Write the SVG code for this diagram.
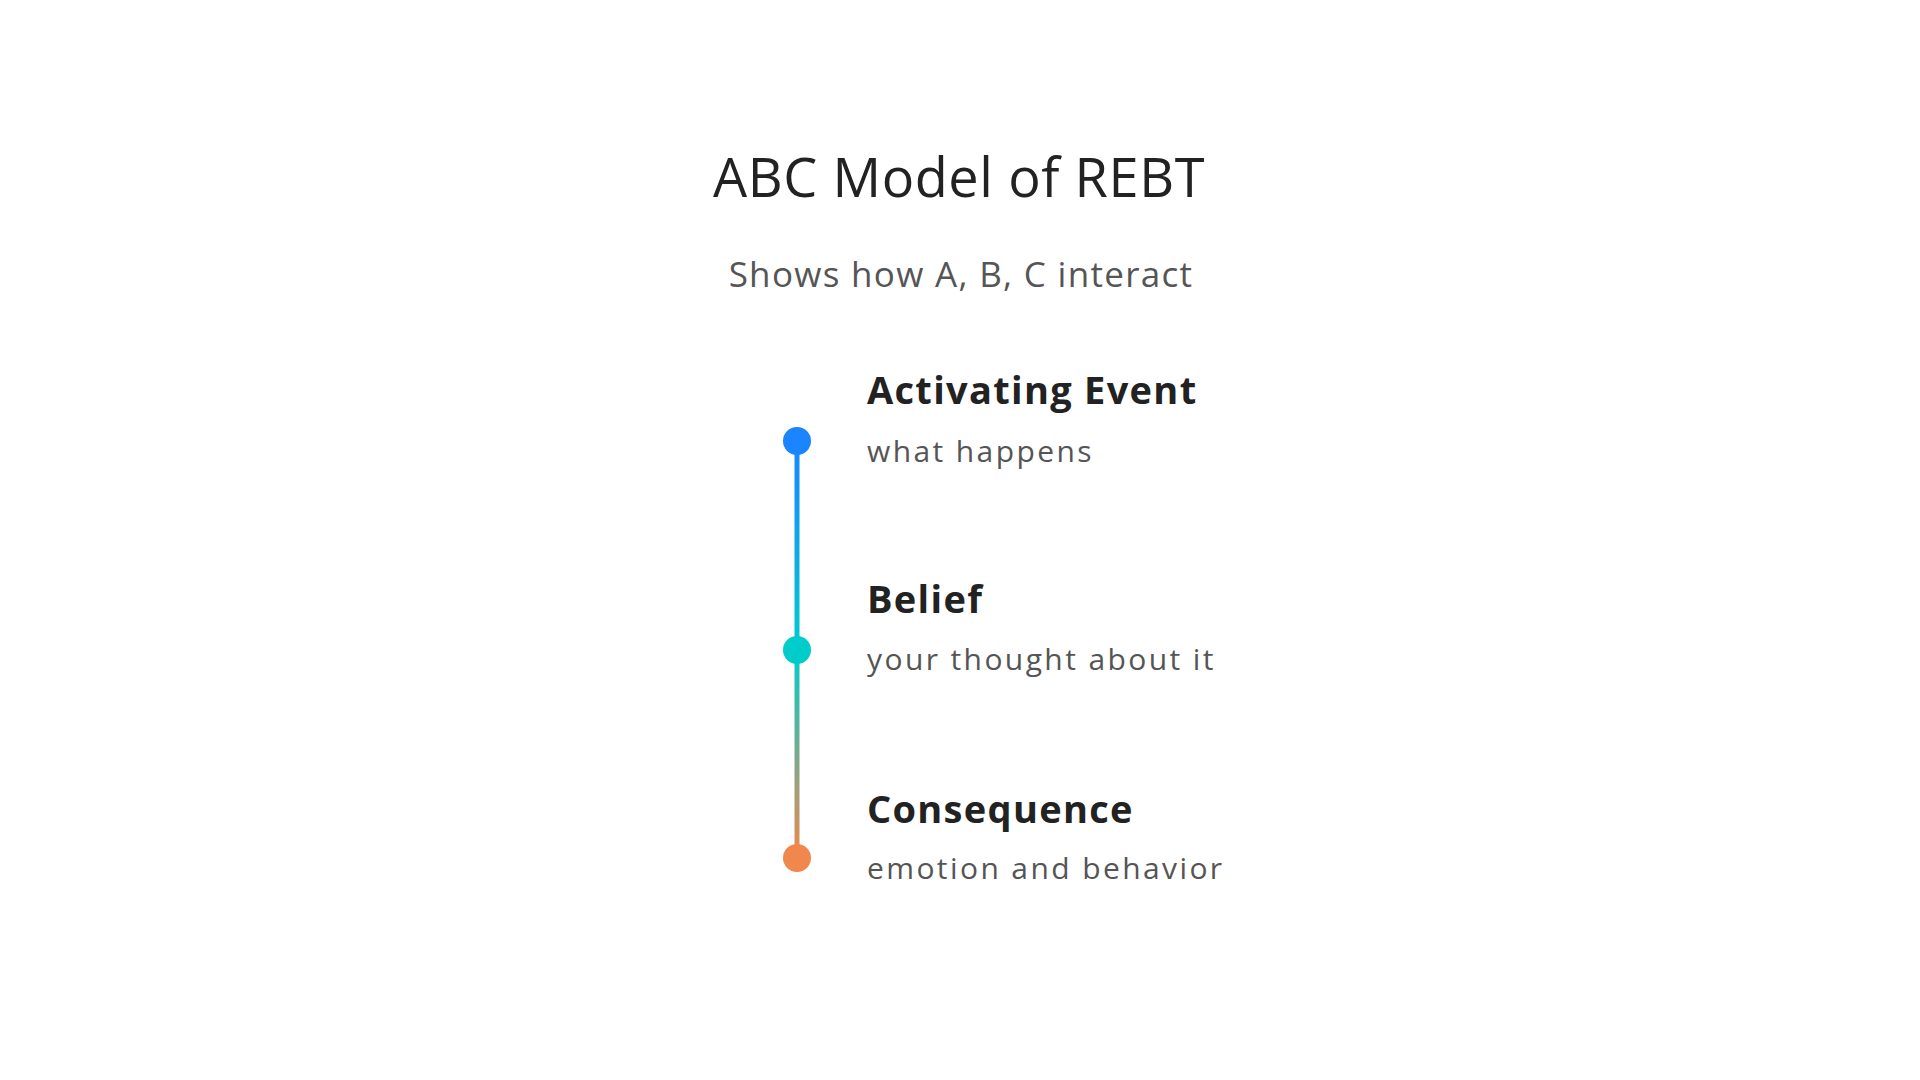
<svg xmlns="http://www.w3.org/2000/svg" width="1920" height="1080" viewBox="0 0 1920 1080">
  <defs>
    <linearGradient id="lineGrad" gradientUnits="userSpaceOnUse" x1="0" y1="441" x2="0" y2="858">
      <stop offset="0" stop-color="#1A85FF"/>
      <stop offset="0.5" stop-color="#00CCCC"/>
      <stop offset="1" stop-color="#F0884D"/>
    </linearGradient>
    <style>
      .title { font-family: "Open Sans", "Noto Sans", sans-serif; font-size: 54px; fill: #222222; letter-spacing: 0.6px; }
      .subtitle { font-family: "Open Sans", "Noto Sans", sans-serif; font-size: 35px; fill: #555555; letter-spacing: 1.3px; }
      .head { font-family: "Open Sans", "Noto Sans", sans-serif; font-size: 38px; font-weight: bold; fill: #222222; letter-spacing: 1.3px; }
      .desc { font-family: "Open Sans", "Noto Sans", sans-serif; font-size: 30px; fill: #555555; letter-spacing: 2.4px; }
    </style>
  </defs>
  <rect width="1920" height="1080" fill="#FFFFFF"/>
  <text class="title" x="959" y="197" text-anchor="middle">ABC Model of REBT</text>
  <text class="subtitle" x="961" y="287" text-anchor="middle">Shows how A, B, C interact</text>
  <g id="connectors">
    <line x1="797" y1="441" x2="797" y2="858" stroke="url(#lineGrad)" stroke-width="5"/>
  </g>
  <g id="node-a">
    <circle cx="797" cy="441" r="14" fill="#1A85FF"/>
    <text class="head" x="867" y="404">Activating Event</text>
    <text class="desc" x="867" y="462">what happens</text>
  </g>
  <g id="node-b">
    <circle cx="797" cy="650" r="14" fill="#00CCCC"/>
    <text class="head" x="867" y="613">Belief</text>
    <text class="desc" x="867" y="670">your thought about it</text>
  </g>
  <g id="node-c">
    <circle cx="797" cy="858" r="14" fill="#F0884D"/>
    <text class="head" x="867" y="823">Consequence</text>
    <text class="desc" x="867" y="879">emotion and behavior</text>
  </g>
</svg>
